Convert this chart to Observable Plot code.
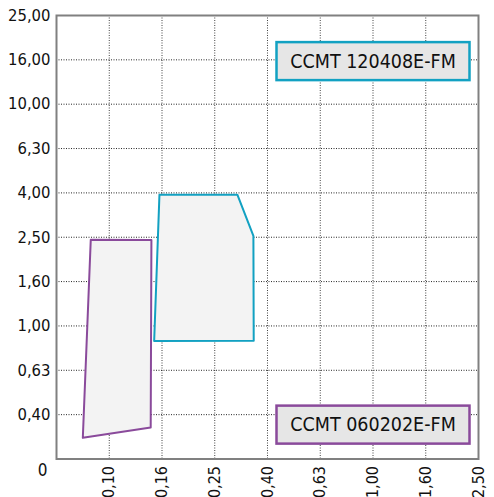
<!DOCTYPE html>
<html>
<head>
<meta charset="utf-8">
<script src="https://cdn.jsdelivr.net/npm/d3@7"></script>
<script src="https://cdn.jsdelivr.net/npm/@observablehq/plot@0.6"></script>
<style>
  html, body { margin: 0; padding: 0; background: #fff; }
</style>
</head>
<body>
<div id="chart"></div>
<script>
// Tick values (log-spaced, R5 series) and their printed labels
const xTickValues = [0.1, 0.1585, 0.2512, 0.3981, 0.631, 1.0, 1.585, 2.512];
const xTickLabels = ["0,10", "0,16", "0,25", "0,40", "0,63", "1,00", "1,60", "2,50"];
const yTickValues = [0.3981, 0.631, 1.0, 1.585, 2.512, 3.981, 6.31, 10.0, 15.85, 25.12];
const yTickLabels = ["0,40", "0,63", "1,00", "1,60", "2,50", "4,00", "6,30", "10,00", "16,00", "25,00"];

// Working area polygons: feed f (x) and depth of cut ap (y)
const cyanF = [0.155, 0.306, 0.352, 0.353, 0.148];
const cyanAp = [3.91, 3.91, 2.55, 0.857, 0.855];
const purpleF = [0.0851, 0.1445, 0.1436, 0.0794];
const purpleAp = [2.45, 2.44, 0.348, 0.313];

// Insert labels
const insertNames = ["CCMT 120408E-FM", "CCMT 060202E-FM"];
const insertLabelF = [1.0, 1.0];
const insertLabelAp = [15.6, 0.358];
const insertColors = ["#12a1c2", "#8a4a9b"];

const cyanPts = cyanF.map((f, i) => ({f, ap: cyanAp[i]}));
const purplePts = purpleF.map((f, i) => ({f, ap: purpleAp[i]}));
const labels = insertNames.map((name, i) => ({name, f: insertLabelF[i], ap: insertLabelAp[i], color: insertColors[i]}));
const xTicks = xTickValues.map((v, i) => ({v, label: xTickLabels[i]}));
const yTicks = yTickValues.map((v, i) => ({v, label: yTickLabels[i]}));

const font = "'DejaVu Sans Condensed', 'DejaVu Sans', sans-serif";

const plot = Plot.plot({
  width: 494,
  height: 497,
  marginLeft: 56,
  marginTop: 15,
  marginRight: 16,
  marginBottom: 38.5,
  style: {fontFamily: font, fontSize: "16px", color: "#111", background: "#fff"},
  x: {type: "log", domain: [Math.pow(10, -1.2), Math.pow(10, 0.4)], axis: null},
  y: {type: "log", domain: [Math.pow(10, -0.6), Math.pow(10, 1.4)], axis: null},
  marks: [
    Plot.gridX(xTickValues, {stroke: "#000", strokeOpacity: 0.75, strokeDasharray: "1,1.5", strokeWidth: 1}),
    Plot.gridY(yTickValues, {stroke: "#000", strokeOpacity: 0.85, strokeDasharray: "1,1.5", strokeWidth: 1}),
    Plot.line(purplePts, {x: "f", y: "ap", curve: "linear-closed", fill: "#f3f3f3", stroke: insertColors[1], strokeWidth: 2}),
    Plot.line(cyanPts, {x: "f", y: "ap", curve: "linear-closed", fill: "#f3f3f3", stroke: insertColors[0], strokeWidth: 2}),
    Plot.frame({stroke: "#808080", strokeWidth: 2}),
    // x tick labels (rotated), drawn as text so the log scale does not thin them
    Plot.text(xTicks, {x: "v", text: "label", frameAnchor: "bottom", rotate: -90, textAnchor: "end", lineAnchor: "middle", dy: 7, fontSize: 16, fill: "#111"}),
    // y tick labels
    Plot.text(yTicks, {y: "v", text: "label", frameAnchor: "left", textAnchor: "end", lineAnchor: "middle", dx: -6, fontSize: 16.5, fill: "#111"}),
    Plot.text(["0"], {frameAnchor: "bottom-left", dx: -14, dy: 12, textAnchor: "middle", lineAnchor: "middle", fontSize: 17, fill: "#111"}),
    Plot.text(labels, {x: "f", y: "ap", text: "name", fontSize: 19.5, fill: "#111"})
  ]
});

document.getElementById("chart").appendChild(plot);

// Draw boxes around the insert labels, centred on the rendered text
const svgns = "http://www.w3.org/2000/svg";
plot.querySelectorAll("text").forEach(t => {
  const i = insertNames.indexOf(t.textContent);
  if (i < 0) return;
  const bb = t.getBBox();
  const cx = bb.x + bb.width / 2;
  const cy = bb.y + bb.height / 2;
  const w = 193, h = 38;
  const r = document.createElementNS(svgns, "rect");
  r.setAttribute("x", cx - w / 2);
  r.setAttribute("y", cy - h / 2);
  r.setAttribute("width", w);
  r.setAttribute("height", h);
  r.setAttribute("fill", "#e6e6e6");
  r.setAttribute("stroke", labels[i].color);
  r.setAttribute("stroke-width", 2.5);
  if (t.getAttribute("transform")) r.setAttribute("transform", t.getAttribute("transform"));
  t.parentNode.insertBefore(r, t);
});
</script>
</body>
</html>
